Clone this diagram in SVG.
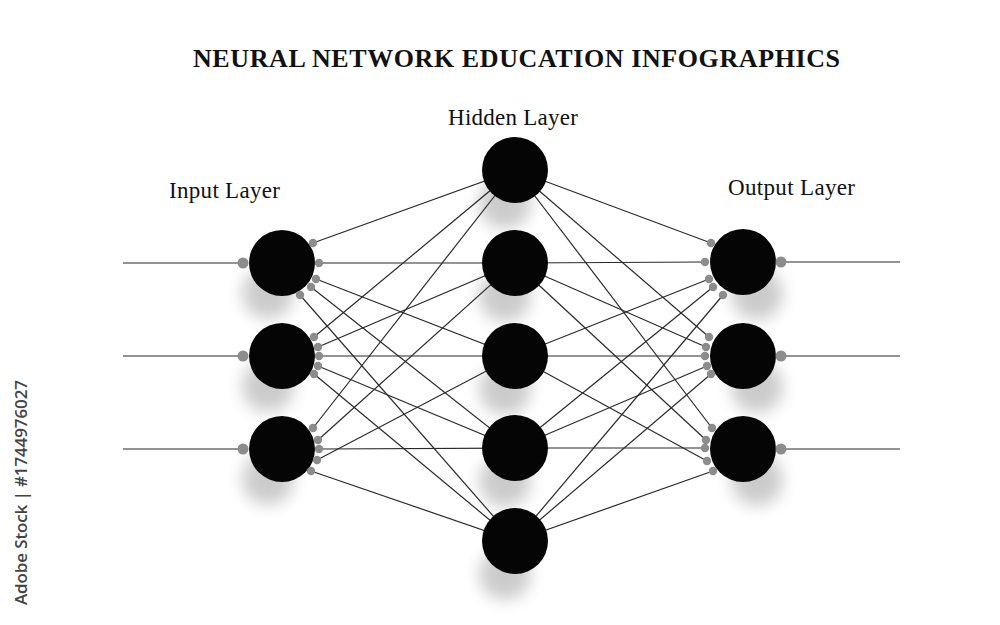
<svg xmlns="http://www.w3.org/2000/svg" width="1000" height="625" viewBox="0 0 1000 625">
<defs>
<filter id="soft" x="-60%" y="-60%" width="220%" height="220%"><feGaussianBlur stdDeviation="8"/></filter>
<style>
.title{font-family:"Liberation Serif","Times New Roman",serif;font-weight:bold;font-size:26px;fill:#111}
.lbl{font-family:"Liberation Serif","Times New Roman",serif;font-size:23px;fill:#111}
.wm{font-family:"Open Sans","DejaVu Sans",sans-serif;font-weight:600;font-size:17px;fill:#444}
.ln{stroke:#2a2a2a;stroke-width:1.2;fill:none}
.node{fill:#050505}
.sh{fill:#000;opacity:0.2;filter:url(#soft)}
.dot{fill:#8c8c8c}
.io{fill:#8c8c8c}
</style>
</defs>
<rect width="1000" height="625" fill="#fff"/>
<text class="title" x="516.5" y="67" text-anchor="middle" textLength="647">NEURAL NETWORK EDUCATION INFOGRAPHICS</text>
<text class="lbl" x="224.5" y="198" text-anchor="middle" textLength="111">Input Layer</text>
<text class="lbl" x="513" y="125" text-anchor="middle" textLength="130">Hidden Layer</text>
<text class="lbl" x="791.5" y="195" text-anchor="middle" textLength="127">Output Layer</text>
<text class="wm" transform="translate(27,492.5) rotate(-90)" text-anchor="middle" textLength="225">Adobe Stock | #1744976027</text>

<g id="shadows">
<circle class="sh" cx="268" cy="293" r="26"/>
<circle class="sh" cx="268" cy="386" r="26"/>
<circle class="sh" cx="268" cy="479" r="26"/>
<circle class="sh" cx="505" cy="203" r="26"/>
<circle class="sh" cx="505" cy="296" r="26"/>
<circle class="sh" cx="505" cy="389" r="26"/>
<circle class="sh" cx="505" cy="481" r="26"/>
<circle class="sh" cx="505" cy="574" r="26"/>
<circle class="sh" cx="757" cy="294" r="26"/>
<circle class="sh" cx="757" cy="387" r="26"/>
<circle class="sh" cx="757" cy="480" r="26"/>
</g>

<g id="connectors">
<line class="ln" x1="123" y1="263" x2="243" y2="263"/>
<line class="ln" x1="123" y1="356" x2="243" y2="356"/>
<line class="ln" x1="123" y1="449" x2="243" y2="449"/>
<line class="ln" x1="781" y1="262" x2="900" y2="262"/>
<line class="ln" x1="781" y1="356" x2="900" y2="356"/>
<line class="ln" x1="781" y1="449" x2="900" y2="449"/>
<line class="ln" x1="313" y1="243" x2="515" y2="170"/>
<line class="ln" x1="319" y1="263" x2="515" y2="263"/>
<line class="ln" x1="316" y1="279" x2="515" y2="356"/>
<line class="ln" x1="311" y1="287" x2="515" y2="448"/>
<line class="ln" x1="300" y1="295" x2="515" y2="541"/>
<line class="ln" x1="314" y1="337" x2="515" y2="170"/>
<line class="ln" x1="318" y1="347" x2="515" y2="263"/>
<line class="ln" x1="319" y1="356" x2="515" y2="356"/>
<line class="ln" x1="318" y1="366" x2="515" y2="448"/>
<line class="ln" x1="314" y1="374" x2="515" y2="541"/>
<line class="ln" x1="313" y1="428" x2="515" y2="170"/>
<line class="ln" x1="318" y1="440" x2="515" y2="263"/>
<line class="ln" x1="319" y1="449" x2="515" y2="448"/>
<line class="ln" x1="317" y1="460" x2="515" y2="356"/>
<line class="ln" x1="311" y1="471" x2="515" y2="541"/>
<line class="ln" x1="711" y1="243" x2="515" y2="170"/>
<line class="ln" x1="705" y1="262" x2="515" y2="263"/>
<line class="ln" x1="709" y1="279" x2="515" y2="356"/>
<line class="ln" x1="713" y1="287" x2="515" y2="448"/>
<line class="ln" x1="723" y1="295" x2="515" y2="541"/>
<line class="ln" x1="709" y1="337" x2="515" y2="170"/>
<line class="ln" x1="706" y1="347" x2="515" y2="263"/>
<line class="ln" x1="705" y1="356" x2="515" y2="356"/>
<line class="ln" x1="707" y1="366" x2="515" y2="448"/>
<line class="ln" x1="711" y1="374" x2="515" y2="541"/>
<line class="ln" x1="712" y1="428" x2="515" y2="170"/>
<line class="ln" x1="706" y1="440" x2="515" y2="263"/>
<line class="ln" x1="705" y1="448" x2="515" y2="448"/>
<line class="ln" x1="707" y1="461" x2="515" y2="356"/>
<line class="ln" x1="713" y1="471" x2="515" y2="541"/>
</g>

<g id="input-1">
<circle class="node" cx="282" cy="263" r="33"/>
<circle class="io" cx="243" cy="263" r="5.5"/>
<circle class="dot" cx="313" cy="243" r="4.2"/><circle class="dot" cx="319" cy="263" r="4.2"/><circle class="dot" cx="316" cy="279" r="4.2"/><circle class="dot" cx="311" cy="287" r="4.2"/><circle class="dot" cx="300" cy="295" r="4.2"/>
</g>
<g id="input-2">
<circle class="node" cx="282" cy="356" r="33"/>
<circle class="io" cx="243" cy="356" r="5.5"/>
<circle class="dot" cx="314" cy="337" r="4.2"/><circle class="dot" cx="318" cy="347" r="4.2"/><circle class="dot" cx="319" cy="356" r="4.2"/><circle class="dot" cx="318" cy="366" r="4.2"/><circle class="dot" cx="314" cy="374" r="4.2"/>
</g>
<g id="input-3">
<circle class="node" cx="282" cy="449" r="33"/>
<circle class="io" cx="243" cy="449" r="5.5"/>
<circle class="dot" cx="313" cy="428" r="4.2"/><circle class="dot" cx="318" cy="440" r="4.2"/><circle class="dot" cx="319" cy="449" r="4.2"/><circle class="dot" cx="317" cy="460" r="4.2"/><circle class="dot" cx="311" cy="471" r="4.2"/>
</g>
<g id="hidden-1"><circle class="node" cx="515" cy="170" r="33"/></g>
<g id="hidden-2"><circle class="node" cx="515" cy="263" r="33"/></g>
<g id="hidden-3"><circle class="node" cx="515" cy="356" r="33"/></g>
<g id="hidden-4"><circle class="node" cx="515" cy="448" r="33"/></g>
<g id="hidden-5"><circle class="node" cx="515" cy="541" r="33"/></g>
<g id="output-1">
<circle class="node" cx="743" cy="262" r="33"/>
<circle class="io" cx="781" cy="262" r="5.5"/>
<circle class="dot" cx="711" cy="243" r="4.2"/><circle class="dot" cx="705" cy="262" r="4.2"/><circle class="dot" cx="709" cy="279" r="4.2"/><circle class="dot" cx="713" cy="287" r="4.2"/><circle class="dot" cx="723" cy="295" r="4.2"/>
</g>
<g id="output-2">
<circle class="node" cx="743" cy="356" r="33"/>
<circle class="io" cx="781" cy="356" r="5.5"/>
<circle class="dot" cx="709" cy="337" r="4.2"/><circle class="dot" cx="706" cy="347" r="4.2"/><circle class="dot" cx="705" cy="356" r="4.2"/><circle class="dot" cx="707" cy="366" r="4.2"/><circle class="dot" cx="711" cy="374" r="4.2"/>
</g>
<g id="output-3">
<circle class="node" cx="743" cy="449" r="33"/>
<circle class="io" cx="781" cy="449" r="5.5"/>
<circle class="dot" cx="712" cy="428" r="4.2"/><circle class="dot" cx="706" cy="440" r="4.2"/><circle class="dot" cx="705" cy="448" r="4.2"/><circle class="dot" cx="707" cy="461" r="4.2"/><circle class="dot" cx="713" cy="471" r="4.2"/>
</g>
</svg>
